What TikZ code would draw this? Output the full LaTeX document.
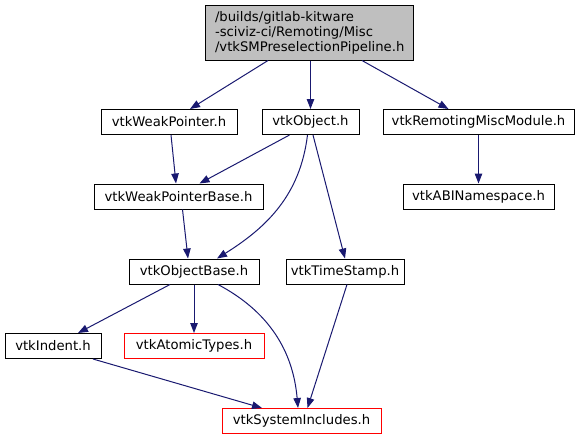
\documentclass[tikz,border=0pt]{standalone}
\usepackage{fontspec}
\setmainfont{DejaVu Sans}
\usetikzlibrary{arrows.meta}
\definecolor{edgeblue}{RGB}{25,25,112}
\definecolor{topgray}{RGB}{191,191,191}
\tikzset{
  filebox/.style={draw=black, line width=1pt, fill=white, minimum height=25pt, inner sep=0pt,
    font=\fontsize{13.2}{15}\selectfont},
  missingbox/.style={filebox, draw=red},
  dep/.style={draw=edgeblue, line width=1pt, -{Triangle[length=10pt,width=7.5pt]}}
}
\begin{document}
\begin{tikzpicture}[x=1pt,y=-1pt]
\useasboundingbox (0,0) rectangle (585,440);
\node[filebox, fill=topgray, minimum width=208pt, minimum height=55pt, text width=188pt, align=left,
  font=\fontsize{13.2}{15}\selectfont] (top) at (309,32.5)
  {/builds/gitlab-kitware\\-sciviz-ci/Remoting/Misc\\/vtkSMPreselectionPipeline.h};
\node[filebox, minimum width=136pt] (weakptr) at (169,122) {vtkWeakPointer.h};
\node[filebox, minimum width=97pt] (object) at (310.5,122) {vtkObject.h};
\node[filebox, minimum width=191pt] (remoting) at (478.5,122) {vtkRemotingMiscModule.h};
\node[filebox, minimum width=169pt] (wpbase) at (178.5,196.5) {vtkWeakPointerBase.h};
\node[filebox, minimum width=151pt] (abi) at (478.5,196.5) {vtkABINamespace.h};
\node[filebox, minimum width=130pt] (objbase) at (194,271.5) {vtkObjectBase.h};
\node[filebox, minimum width=118pt] (timestamp) at (345,271.5) {vtkTimeStamp.h};
\node[filebox, minimum width=96pt] (indent) at (53,346) {vtkIndent.h};
\node[missingbox, minimum width=140pt] (atomic) at (194,346) {vtkAtomicTypes.h};
\node[missingbox, minimum width=159pt] (sysinc) at (301.5,421) {vtkSystemIncludes.h};

\draw[dep] ([xshift=-41pt]top.south) -- ([xshift=21pt]weakptr.north);
\draw[dep] (top.south -| object.north) -- (object.north);
\draw[dep] ([xshift=53pt]top.south) -- ([xshift=-30pt]remoting.north);
\draw[dep] ([xshift=2pt]weakptr.south) -- ([xshift=-2.5pt]wpbase.north);
\draw[dep] ([xshift=-21pt]object.south) -- ([xshift=21pt]wpbase.north);
\draw[dep] ([xshift=-3pt]object.south) to[out=-97,in=32] ([xshift=23pt]objbase.north);
\draw[dep] ([xshift=2.5pt]object.south) -- (timestamp.north);
\draw[dep] (remoting.south) -- (abi.north);
\draw[dep] ([xshift=4pt]wpbase.south) -- ([xshift=-6pt]objbase.north);
\draw[dep] ([xshift=-24pt]objbase.south) -- ([xshift=25pt]indent.north);
\draw[dep] (objbase.south) -- (atomic.north);
\draw[dep] ([xshift=24pt]objbase.south) to[out=-28,in=95] ([xshift=-3.5pt]sysinc.north);
\draw[dep] ([xshift=2pt]timestamp.south) -- ([xshift=6pt]sysinc.north);
\draw[dep] ([xshift=40pt]indent.south) -- ([xshift=-39.5pt]sysinc.north);
\end{tikzpicture}
\end{document}
